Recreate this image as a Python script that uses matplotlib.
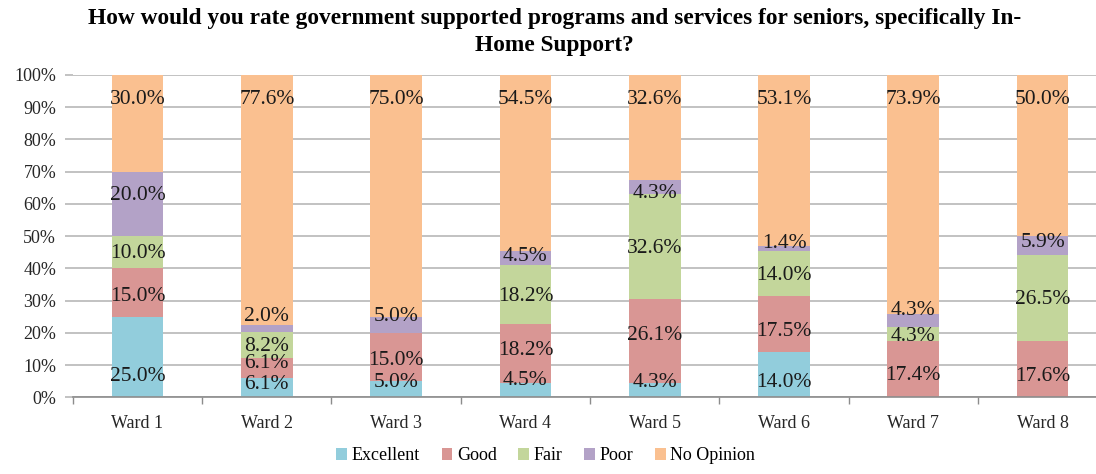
import numpy as np
import matplotlib
matplotlib.use("Agg")
import matplotlib.pyplot as plt
from matplotlib.patches import Patch
from matplotlib.ticker import PercentFormatter

plt.rcParams['font.family'] = ['Liberation Serif', 'DejaVu Serif']

# Data (percent of responses per ward)
wards = ['Ward 1', 'Ward 2', 'Ward 3', 'Ward 4', 'Ward 5', 'Ward 6', 'Ward 7', 'Ward 8']
ratings = ['Excellent', 'Good', 'Fair', 'Poor', 'No Opinion']
excellent = [25.0, 6.1, 5.0, 4.5, 4.3, 14.0, 0.0, 0.0]
good = [15.0, 6.1, 15.0, 18.2, 26.1, 17.5, 17.4, 17.6]
fair = [10.0, 8.2, 0.0, 18.2, 32.6, 14.0, 4.3, 26.5]
poor = [20.0, 2.0, 5.0, 4.5, 4.3, 1.4, 4.3, 5.9]
no_opinion = [30.0, 77.6, 75.0, 54.5, 32.6, 53.1, 73.9, 50.0]

colors = ['#92CDDC', '#D99694', '#C3D69B', '#B3A2C7', '#FAC090']

# where each data label sits in the original (percent height), None = no label
label_y = [
    [6.4, 4.1, 4.5, 5.2, 4.5, 4.5, None, None],
    [31.2, 10.5, 11.3, 14.4, 19.3, 20.4, 6.9, 6.4],
    [44.7, 15.9, None, 31.4, 46.2, 37.9, 19.0, 30.4],
    [62.5, 25.0, 25.2, 43.6, 63.3, 47.8, 26.9, 48.0],
    [92.5] * 8,
]

series = [excellent, good, fair, poor, no_opinion]

fig = plt.figure(figsize=(10.96, 4.74), dpi=100)
ax = fig.add_axes([0.0665, 0.1618, 0.9438, 0.68])

x = np.arange(len(wards))
bottom = np.zeros(len(wards))
for vals, col, name in zip(series, colors, ratings):
    ax.bar(x, vals, 0.4, bottom=bottom, color=col, label=name, zorder=2)
    bottom += np.array(vals)

for vals, ys in zip(series, label_y):
    for i, (v, yy) in enumerate(zip(vals, ys)):
        if yy is None:
            continue
        ax.text(x[i], yy, f'{v:.1f}%', ha='center', va='center',
                fontsize=15.5, color='#1a1a1a', zorder=3)

ax.set_xlim(-0.5, len(wards) - 0.5)
ax.set_ylim(0, 100)
ax.set_yticks(np.arange(0, 101, 10))
ax.yaxis.set_major_formatter(PercentFormatter(decimals=0))
ax.yaxis.grid(True, color='#B8B8B8', linewidth=1.2, zorder=0)
ax.set_axisbelow(True)

ax.set_xticks(x)
ax.set_xticklabels(wards)
ax.set_xticks(np.arange(-0.5, len(wards), 1), minor=True)
ax.tick_params(axis='x', which='major', length=0, pad=13, labelsize=13, labelcolor='#262626')
ax.tick_params(axis='x', which='minor', length=5, color='#8C8C8C', width=1)
ax.tick_params(axis='y', length=6, color='#B8B8B8', width=1.2, labelsize=13,
               labelcolor='#262626', pad=6)

for side in ['top', 'right', 'left']:
    ax.spines[side].set_visible(False)
ax.spines['bottom'].set_color('#8C8C8C')
ax.spines['bottom'].set_linewidth(1.2)

fig.text(0.506, 0.962, 'How would you rate government supported programs and services for seniors, specifically In-',
         ha='center', va='center', fontsize=16.8, fontweight='bold')
fig.text(0.506, 0.905, 'Home Support?', ha='center', va='center', fontsize=16.8, fontweight='bold')

handles = [Patch(facecolor=c, label=r) for c, r in zip(colors, ratings)]
fig.legend(handles=handles, loc='center', bbox_to_anchor=(0.498, 0.038), ncol=5,
           frameon=False, fontsize=13, handlelength=0.6, handleheight=0.6,
           handletextpad=0.25, columnspacing=1.2)

fig.savefig('out.png', dpi=100)
